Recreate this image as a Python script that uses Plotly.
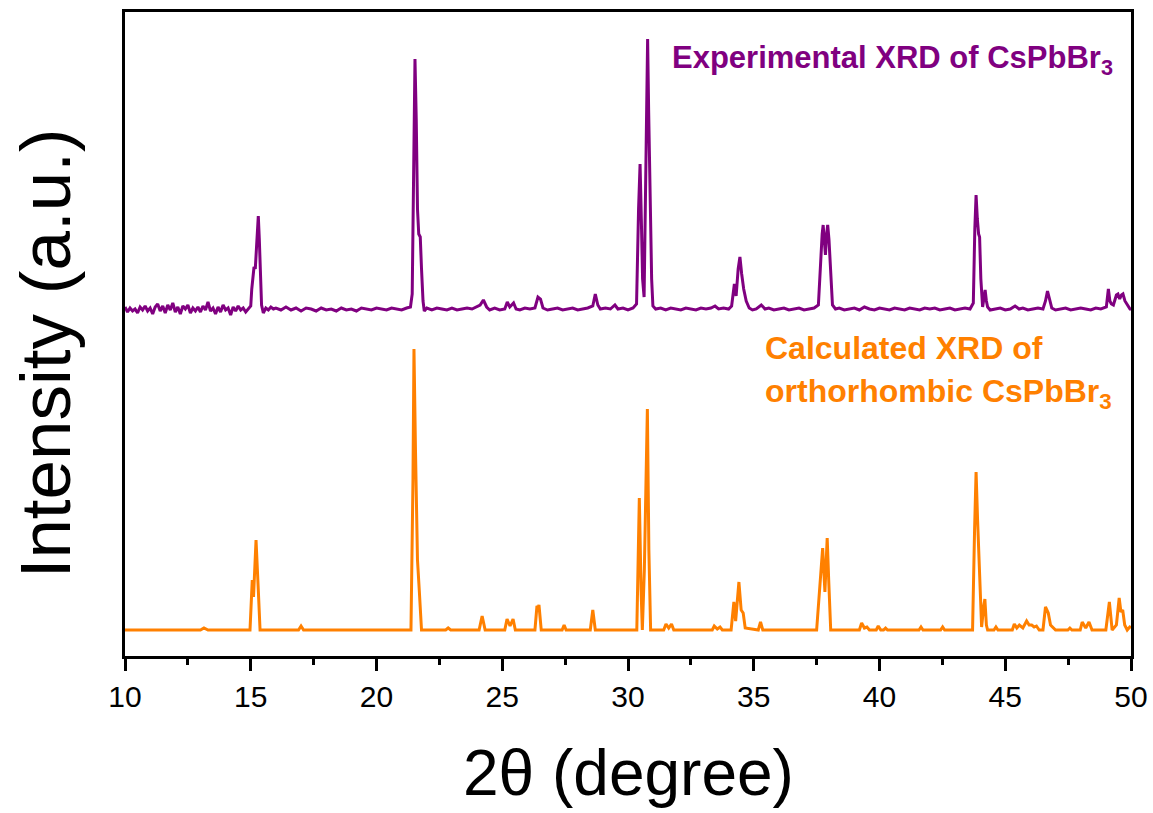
import plotly.graph_objects as go

# ---------------- data ----------------
# Experimental XRD of CsPbBr3 (intensity in a.u., relative to its own baseline)
exp_2theta = [
    10.0, 10.1, 10.2, 10.3, 10.4, 10.5, 10.6, 10.7, 10.8, 10.9,
    11.0, 11.1, 11.2, 11.3, 11.4, 11.5, 11.6, 11.7, 11.8, 11.9,
    12.0, 12.1, 12.2, 12.3, 12.4, 12.5, 12.6, 12.7, 12.8, 12.9,
    13.0, 13.1, 13.2, 13.3, 13.4, 13.5, 13.6, 13.7, 13.8, 13.9,
    14.0, 14.1, 14.2, 14.3, 14.4, 14.5, 14.6, 14.7, 14.8, 14.9,
    15.0, 15.04, 15.1, 15.13, 15.18, 15.24, 15.30, 15.34, 15.38, 15.43, 15.5,
    15.6, 15.7, 15.8, 15.9, 16.0, 16.2, 16.4, 16.6, 16.8, 17.0, 17.2, 17.4,
    17.6, 17.8, 18.0, 18.2, 18.4, 18.6, 18.8, 19.0, 19.2, 19.4, 19.6, 19.8,
    20.0, 20.2, 20.4, 20.6, 20.8, 21.0, 21.2, 21.35,
    21.42, 21.47, 21.53, 21.58, 21.63, 21.68, 21.74, 21.79, 21.85, 21.9,
    22.0, 22.2, 22.4, 22.6, 22.8, 23.0, 23.2, 23.4, 23.6, 23.8, 24.0,
    24.12, 24.25, 24.38, 24.5, 24.7, 24.9, 25.1, 25.2, 25.3, 25.45, 25.55,
    25.7, 25.9, 26.1, 26.3, 26.42, 26.52, 26.62, 26.8, 27.0, 27.2, 27.4,
    27.6, 27.8, 28.0, 28.2, 28.4, 28.6, 28.7, 28.8, 28.9, 29.1, 29.3,
    29.48, 29.6, 29.8, 30.0, 30.2, 30.34,
    30.42, 30.48, 30.53, 30.58, 30.64, 30.69, 30.73, 30.78, 30.82, 30.86,
    30.9, 30.94, 30.99, 31.1, 31.3, 31.5, 31.7, 31.9, 32.1, 32.3, 32.5,
    32.7, 32.9, 33.1, 33.3, 33.46, 33.6, 33.8, 34.0,
    34.12, 34.23, 34.3, 34.38, 34.45, 34.52, 34.6, 34.7, 34.82, 34.95,
    35.1, 35.3, 35.45, 35.6, 35.8, 36.0, 36.2, 36.4, 36.6, 36.8, 37.0,
    37.2, 37.4, 37.57, 37.65, 37.72, 37.76, 37.8, 37.85, 37.9, 37.94,
    37.99, 38.05, 38.13, 38.25, 38.4, 38.6, 38.8, 39.0, 39.2, 39.4, 39.6,
    39.8, 40.0, 40.2, 40.4, 40.6, 40.8, 41.0, 41.2, 41.4, 41.6, 41.8,
    42.0, 42.2, 42.4, 42.6, 42.8, 43.0, 43.2, 43.4, 43.6,
    43.73, 43.79, 43.84, 43.89, 43.94, 43.98, 44.03, 44.1, 44.16, 44.2,
    44.25, 44.3, 44.4, 44.6, 44.8, 45.0, 45.2, 45.39, 45.55, 45.7, 45.9,
    46.1, 46.3, 46.5, 46.6, 46.68, 46.76, 46.85, 47.0, 47.2, 47.4, 47.6,
    47.8, 48.0, 48.2, 48.4, 48.6, 48.8, 49.02, 49.1, 49.16, 49.22, 49.3,
    49.42, 49.48, 49.55, 49.62, 49.68, 49.76, 49.86, 49.96, 50.0,
]
exp_intensity = [
    2, -3, 1, -2, 0, -4, 2, -1, 3, -2,
    1, -5, 2, 5, -2, 3, -4, 4, -1, 6,
    -3, 2, -5, 3, 0, 4, -4, 1, -2, 2,
    -3, 3, -1, 7, -2, 1, -5, 2, -3, 4,
    -1, 1, -6, 2, -2, 3, -1, 1, -3, 0,
    3, 20, 35, 42, 40, 75, 93, 70, 30, 4, -4,
    1, -1, 2, 0, 1, -1, 2, -1, 1, -2, 1, 0,
    -2, 1, -1, 0, -2, 1, -1, 0, -2, 1, 0, -1,
    1, 0, -1, 1, 0, -1, 1, 2,
    15, 120, 250, 190, 100, 75, 72, 40, 8, -2,
    1, -1, 1, 0, -1, 1, -1, 0, 1, 0, 2,
    4, 9, 2, -1, 1, -1, 0, 7, 2, 6, 0,
    -1, 1, 0, 1, 12, 10, 1, -1, 0, 1, -1,
    0, 1, -1, 0, 1, 3, 15, 4, 0, 1, 0,
    4, 0, 1, -1, 1, 5,
    100, 145, 90, 30, 12, 100, 200, 270, 200, 140,
    80, 30, 3, 0, 1, -1, 1, 0, -1, 1, 0,
    -1, 1, 0, 1, 3, 0, 1, 0,
    3, 25, 13, 40, 52, 35, 20, 8, 1, -1,
    0, 4, 0, 1, -1, 0, 1, -1, 0, 1, -1,
    0, 1, 4, 45, 75, 84, 70, 54, 75, 84,
    70, 40, 4, 0, 1, -1, 0, 1, -1, 2, 0,
    -1, 1, 0, -1, 1, 0, -1, 1, 0, -1, 1,
    0, 1, -1, 0, 1, -1, 0, 1, 0,
    6, 80, 114, 90, 75, 72, 30, 2, 10, 19,
    8, 2, -1, 0, 1, -1, 0, 3, 0, 1, -1,
    0, 1, 0, 8, 18, 10, 1, -1, 0, 1, -1,
    0, 1, 0, -1, 1, 0, 2, 20, 8, 5, 4,
    14, 15, 10, 14, 15, 8, 4, 0, 0,
]

# Calculated XRD of orthorhombic CsPbBr3
calc_2theta = [
    10.0, 13.0, 13.14, 13.3, 14.97, 15.06, 15.11, 15.16, 15.21, 15.30, 15.37,
    16.9, 17.0, 17.1, 21.37, 21.45, 21.49, 21.55, 21.63, 21.7, 21.79,
    22.75, 22.85, 22.95, 24.08, 24.2, 24.32, 25.1, 25.19, 25.31, 25.43, 25.52,
    26.3, 26.38, 26.42, 26.46, 26.55, 27.38, 27.46, 27.54, 28.5, 28.6, 28.7,
    30.35, 30.45, 30.52, 30.57, 30.65, 30.70, 30.77, 30.83, 30.9,
    31.42, 31.51, 31.62, 31.73, 31.82, 33.35, 33.43, 33.55, 33.66, 33.75,
    34.1, 34.21, 34.28, 34.41, 34.5, 34.58, 34.66, 35.18, 35.27, 35.36,
    37.5, 37.66, 37.74, 37.83, 37.92, 37.98, 38.06,
    39.2, 39.29, 39.4, 39.5, 39.6, 39.87, 39.95, 40.05, 40.16, 40.24, 40.32,
    41.57, 41.65, 41.73, 42.43, 42.51, 42.59,
    43.7, 43.78, 43.84, 43.9, 43.98, 44.06, 44.15, 44.19, 44.25, 44.3,
    44.55, 44.63, 44.71, 45.28, 45.36, 45.46, 45.56, 45.7, 45.85, 45.95,
    46.05, 46.15, 46.24, 46.35, 46.5, 46.6, 46.71, 46.8, 47.0,
    47.49, 47.57, 47.65, 47.98, 48.06, 48.2, 48.33, 48.45,
    49.0, 49.14, 49.25, 49.42, 49.53, 49.6, 49.67, 49.75, 49.85, 49.95, 50.0,
]
calc_intensity = [
    0, 0, 2, 0, 0, 50, 33, 70, 90, 40, 0,
    0, 4, 0, 0, 150, 281, 180, 70, 40, 0,
    0, 2, 0, 0, 14, 0, 0, 11, 4, 11, 0,
    0, 24, 22, 25, 0, 0, 5, 0, 0, 20, 0,
    0, 132, 40, 0, 60, 138, 221, 80, 0,
    0, 6, 2, 6, 0, 0, 4, 1, 3, 0,
    0, 28, 9, 48, 20, 17, 2, 0, 8, 0,
    0, 60, 82, 38, 92, 50, 0,
    0, 7, 2, 3, 0, 0, 4, 0, 0, 2, 0,
    0, 3, 0, 0, 3, 0,
    0, 100, 158, 110, 50, 3, 25, 31, 5, 0,
    0, 3, 0, 0, 6, 2, 5, 2, 9, 5,
    5, 3, 4, 0, 0, 23, 17, 5, 0,
    0, 2, 0, 0, 8, 2, 8, 0,
    0, 28, 0, 5, 32, 18, 20, 5, 0, 3, 2,
]

exp_offset = 321          # vertical stacking offset of the experimental pattern
x_tick_start = 10
x_tick_step = 5
x_minor_step = 2.5

PURPLE = "#800080"
ORANGE = "#FF8000"
FONT = "Arial, 'Liberation Sans', sans-serif"

fig = go.Figure()
fig.add_trace(go.Scatter(
    x=calc_2theta, y=calc_intensity, mode="lines",
    line=dict(color=ORANGE, width=3), showlegend=False))
fig.add_trace(go.Scatter(
    x=exp_2theta, y=[v + exp_offset for v in exp_intensity], mode="lines",
    line=dict(color=PURPLE, width=3), showlegend=False))

fig.update_layout(
    width=1153, height=813,
    margin=dict(l=125, r=22, t=12, b=157),
    paper_bgcolor="white", plot_bgcolor="white",
    font=dict(family=FONT, color="black"),
    xaxis=dict(
        range=[10, 50], tickmode="linear", tick0=x_tick_start, dtick=x_tick_step,
        ticks="outside", ticklen=12, tickwidth=2.5, tickcolor="black",
        tickfont=dict(size=30, family=FONT, color="black"),
        minor=dict(tickmode="linear", tick0=x_tick_start, dtick=x_minor_step,
                   ticks="outside", ticklen=6, tickwidth=2.5,
                   tickcolor="black", showgrid=False),
        showline=True, linecolor="black", linewidth=2.5, mirror=True,
        showgrid=False, zeroline=False, automargin=False,
    ),
    yaxis=dict(
        range=[-26, 618], showticklabels=False, ticks="",
        showline=True, linecolor="black", linewidth=2.5, mirror=True,
        showgrid=False, zeroline=False, automargin=False,
    ),
    annotations=[
        dict(text="2θ (degree)", xref="paper", yref="paper", x=0.5, y=-0.182,
             xanchor="center", yanchor="middle", showarrow=False,
             font=dict(size=64, family=FONT, color="black")),
        dict(text="Intensity (a.u.)", xref="paper", yref="paper", x=-0.0795,
             y=0.47, xanchor="center", yanchor="middle", textangle=-90,
             showarrow=False, font=dict(size=71, family=FONT, color="black")),
        dict(text="<b>Experimental XRD of CsPbBr<sub>3</sub></b>", xref="paper",
             yref="paper", x=0.984, y=0.925, xanchor="right", yanchor="middle",
             showarrow=False, font=dict(size=31, family=FONT, color=PURPLE)),
        dict(text="<b>Calculated XRD of</b>", xref="paper", yref="paper",
             x=0.634, y=0.478, xanchor="left", yanchor="middle",
             showarrow=False, font=dict(size=32, family=FONT, color=ORANGE)),
        dict(text="<b>orthorhombic CsPbBr<sub>3</sub></b>", xref="paper",
             yref="paper", x=0.634, y=0.408, xanchor="left", yanchor="middle",
             showarrow=False, font=dict(size=32, family=FONT, color=ORANGE)),
    ],
)

fig.write_html(
    "out.html",
    config={"displayModeBar": False},
    post_script="document.body.style.margin='0';document.body.style.overflow='hidden';",
)
